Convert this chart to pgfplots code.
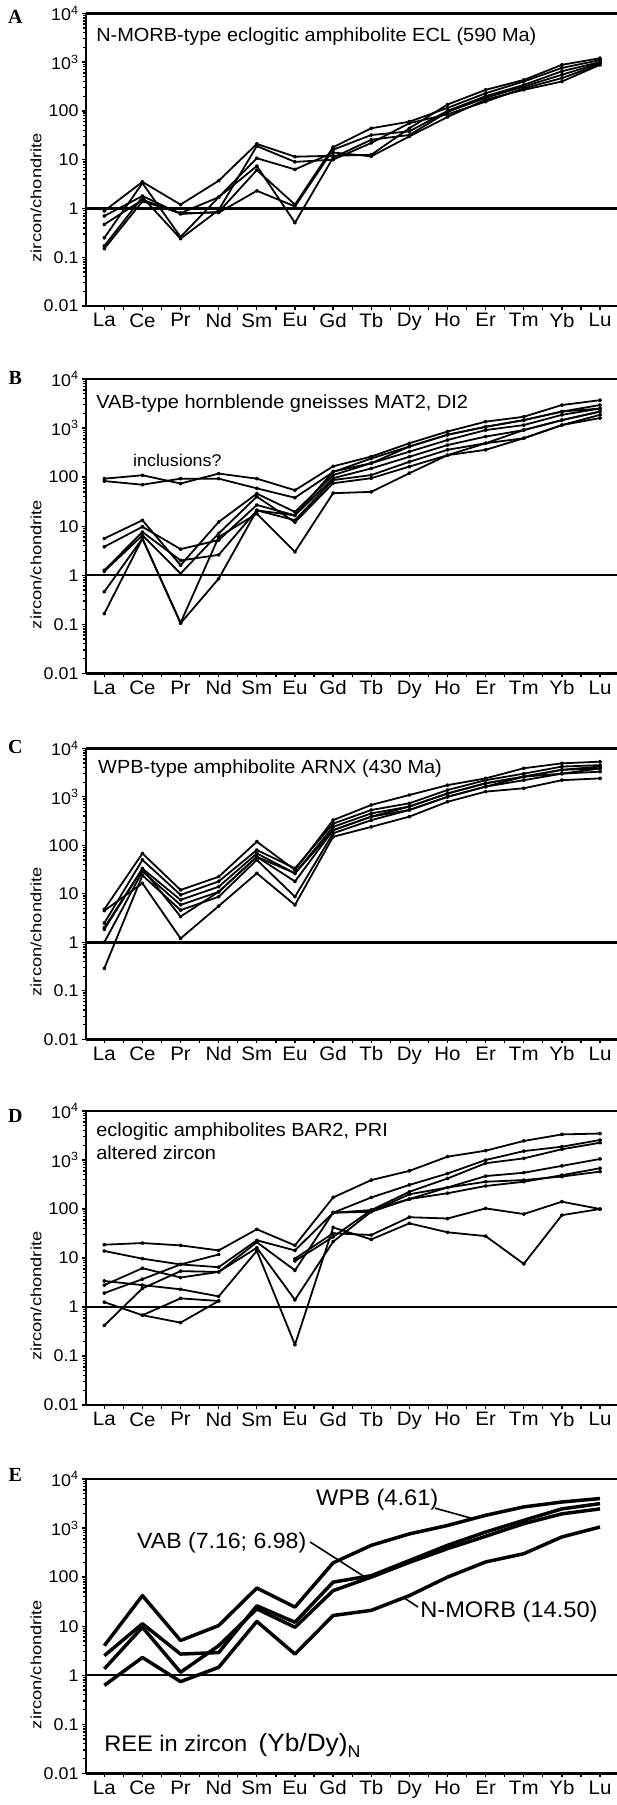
\documentclass[border=0pt]{standalone}
\usepackage{fontspec}
\setmainfont{Liberation Sans}[FakeStretch=1.05]
\newfontfamily\ylabfont{Liberation Sans}[FakeStretch=1.22]
\newfontfamily\letterfont{Liberation Serif}
\usepackage{pgfplots}
\pgfplotsset{compat=1.18}

\pgfplotsset{
  ree/.style={
    scale only axis, width=531.2pt,
    xmin=-0.48, xmax=13.45,
    ymin=0.01, ymax=10000,
    axis x line=box, axis y line=left,
    axis line style={-, line width=2.4pt},
    xtick pos=left, ytick pos=left,
    tick align=outside,
    xtick={0,0.5,...,13},
    xticklabels={La,,Ce,,Pr,,Nd,,Sm,,Eu,,Gd,,Tb,,Dy,,Ho,,Er,,Tm,,Yb,,Lu},
    ytick={0.01,0.1,1,10,100,1000,10000},
    yticklabels={0.01,0.1,1,10,100,{10\textsuperscript{3}},{10\textsuperscript{4}}},
    major tick length=4pt, minor tick length=2.5pt,
    every tick/.style={black, line width=1.3pt},
    xticklabel style={font=\fontsize{19.5}{19.5}\selectfont},
    yticklabel style={font=\fontsize{17}{17}\selectfont},
    ylabel={zircon/chondrite},
    ylabel style={at={(axis description cs:-0.094,0.37)}, anchor=center,
      font=\ylabfont\fontsize{15}{15}\selectfont},
    clip=false,
  },
  ln/.style={black, line width=1.8pt, line join=round, mark=*, mark size=1.1pt},
  lnE/.style={black, line width=3.5pt, line join=round, mark=none},
  one/.style={black, line width=2.4pt, mark=none},
}
\tikzset{
  ttl/.style={anchor=west, font=\fontsize{19}{19}\selectfont, inner sep=0pt},
  lett/.style={font=\letterfont\bfseries\fontsize{20}{20}\selectfont, inner sep=0pt},
}

\begin{document}
\begin{tikzpicture}
\useasboundingbox (0pt,0pt) rectangle (617pt,-1805pt);

% ---------- A ----------
\begin{semilogyaxis}[ree, height=292.7pt, at={(86pt,-13.3pt)}, anchor=north west]
\addplot[one] coordinates {(-0.48,1) (13.45,1)};
\addplot[ln] coordinates {(0,0.89)(1,3.5)(2,1.2)(3,3.7)(4,21)(5,11.5)(6,12)(7,12.6)(8,44)(9,135)(10,270)(11,430)(12,880)(13,1200)};
\addplot[ln] coordinates {(0,0.7)(1,1.8)(2,0.77)(3,0.85)(4,6.1)(5,1.2)(6,18)(7,44)(8,60)(9,115)(10,230)(11,400)(12,760)(13,1100)};
\addplot[ln] coordinates {(0,0.47)(1,1.5)(2,0.8)(3,0.82)(4,2.3)(5,1.1)(6,16)(7,32)(8,38)(9,100)(10,200)(11,340)(12,650)(13,1000)};
\addplot[ln] coordinates {(0,0.25)(1,3.3)(2,0.26)(3,1.7)(4,7.4)(5,0.51)(6,11)(7,25.6)(8,32)(9,95)(10,185)(11,315)(12,550)(13,950)};
\addplot[ln] coordinates {(0,0.17)(1,1.7)(2,0.24)(3,0.93)(4,19)(5,9)(6,10)(7,22)(8,56)(9,85)(10,155)(11,290)(12,470)(13,900)};
\addplot[ln] coordinates {(0,0.15)(1,1.4)(2,0.8)(3,1.7)(4,10.7)(5,6.3)(6,14)(7,11.7)(8,30)(9,75)(10,170)(11,270)(12,400)(13,880)};
\node[lett] at (axis description cs:-0.133,0.987) {A};
\node[ttl] at (axis description cs:0.019,0.919) {N-MORB-type eclogitic amphibolite ECL (590 Ma)};
\end{semilogyaxis}

% ---------- B ----------
\begin{semilogyaxis}[ree, height=294.3pt, at={(86pt,-379pt)}, anchor=north west]
\addplot[one] coordinates {(-0.48,1) (13.45,1)};
\addplot[ln] coordinates {(0,93)(1,109)(2,74)(3,118)(4,93)(5,54)(6,166)(7,262)(8,490)(9,850)(10,1350)(11,1700)(12,2950)(13,3700)};
\addplot[ln] coordinates {(0,83)(1,70)(2,93)(3,93)(4,59)(5,38)(6,127)(7,240)(8,420)(9,730)(10,1060)(11,1450)(12,2170)(13,2950)};
\addplot[ln] coordinates {(0,5.6)(1,13.2)(2,1.6)(3,12.2)(4,46)(5,19.5)(6,110)(7,192)(8,330)(9,570)(10,910)(11,1150)(12,1860)(13,2500)};
\addplot[ln] coordinates {(0,3.8)(1,9.7)(2,3.4)(3,5.2)(4,27)(5,16.6)(6,95)(7,150)(8,260)(9,450)(10,670)(11,910)(12,1450)(13,2170)};
\addplot[ln] coordinates {(0,1.26)(1,7.6)(2,2.0)(3,2.6)(4,21)(5,13.2)(6,87)(7,110)(8,205)(9,360)(10,490)(11,620)(12,1150)(13,1860)};
\addplot[ln] coordinates {(0,1.2)(1,6.5)(2,1.08)(3,7.1)(4,40)(5,12)(6,75)(7,95)(8,164)(9,280)(10,360)(11,620)(12,1150)(13,1600)};
\addplot[ln] coordinates {(0,0.46)(1,5.6)(2,0.107)(3,6.0)(4,18)(5,3.0)(6,47)(7,50)(8,120)(9,280)(10,490)(11,910)(12,1450)(13,2170)};
\addplot[ln] coordinates {(0,0.165)(1,5.6)(2,0.105)(3,0.85)(4,21)(5,16.6)(6,130)(7,192)(8,420)(9,730)(10,1060)(11,1450)(12,2170)(13,2500)};
\node[lett] at (axis description cs:-0.133,1.005) {B};
\node[ttl] at (axis description cs:0.019,0.918) {VAB-type hornblende gneisses MAT2, DI2};
\node[ttl, font=\fontsize{17}{17}\selectfont] at (axis description cs:0.0885,0.724) {inclusions?};
\end{semilogyaxis}

% ---------- C ----------
\begin{semilogyaxis}[ree, height=291pt, at={(86pt,-748.3pt)}, anchor=north west]
\addplot[one] coordinates {(-0.48,1) (13.45,1)};
\addplot[ln] coordinates {(0,4.8)(1,68)(2,12)(3,22.5)(4,119)(5,31)(6,330)(7,680)(8,1090)(9,1740)(10,2400)(11,3880)(12,4900)(13,5300)};
\addplot[ln] coordinates {(0,2.5)(1,50)(2,9.5)(3,18)(4,80)(5,33.5)(6,280)(7,535)(8,735)(9,1380)(10,2200)(11,3000)(12,4200)(13,4500)};
\addplot[ln] coordinates {(0,1.85)(1,33)(2,7.5)(3,14)(4,68)(5,26.5)(6,240)(7,455)(8,630)(9,1170)(10,1900)(11,2600)(12,3600)(13,3850)};
\addplot[ln] coordinates {(0,1.0)(1,29)(2,5.9)(3,11)(4,58)(5,18)(6,205)(7,390)(8,535)(9,1000)(10,1620)(11,2200)(12,3000)(13,3300)};
\addplot[ln] coordinates {(0,0.29)(1,24)(2,4.6)(3,8.7)(4,50)(5,8.7)(6,177)(7,330)(8,535)(9,1000)(10,1620)(11,2600)(12,3600)(13,4200)};
\addplot[ln] coordinates {(0,4.5)(1,16.5)(2,1.2)(3,5.6)(4,26.5)(5,5.9)(6,150)(7,240)(8,390)(9,790)(10,1280)(11,1500)(12,2200)(13,2400)};
\addplot[ln] coordinates {(0,2.0)(1,33)(2,3.4)(3,11)(4,58)(5,26.5)(6,205)(7,390)(8,630)(9,1170)(10,1900)(11,2600)(12,3000)(13,3850)};
\node[lett] at (axis description cs:-0.133,1.005) {C};
\node[ttl] at (axis description cs:0.0226,0.932) {WPB-type amphibolite ARNX (430 Ma)};
\end{semilogyaxis}

% ---------- D ----------
\begin{semilogyaxis}[ree, height=294pt, at={(86pt,-1111pt)}, anchor=north west]
\addplot[one] coordinates {(-0.48,1) (13.45,1)};
\addplot[ln] coordinates {(0,18.7)(1,20.2)(2,18.1)(3,14.3)(4,38.6)(5,18.1)(6,172)(7,390)(8,600)(9,1170)(10,1550)(11,2450)(12,3330)(13,3470)};
\addplot[ln] coordinates {(0,13.9)(1,9.7)(2,7.4)(3,6.5)(4,23)(5,14.3)(6,84)(7,172)(8,310)(9,530)(10,1000)(11,1520)(12,1870)(13,2560)};
\addplot[ln] coordinates {(0,1.93)(1,3.7)(2,7.4)(3,11.8)};
\addplot[ln] coordinates {(0,0.42)(1,2.4)(2,5.4)(3,5.2)(4,21)(5,5.6)(6,84)(7,95)(8,225)(9,420)(10,860)(11,1080)(12,1660)(13,2250)};
\addplot[ln] coordinates {(0,3.4)(1,2.8)(2,2.3)(3,1.65)(4,14)(5,0.17)(6,42)(7,24)(8,51)(9,33.5)(10,28)(11,7.6)(12,75)(13,100)};
\addplot[ln] coordinates {(0,1.26)(1,0.68)(2,0.48)(3,1.33)};
\addplot[ln] coordinates {(0,2.8)(1,6.2)(2,4.0)(3,5.2)(4,16.2)(5,1.4)(6,21.5)(7,88)(8,200)(9,275)(10,470)(11,550)(12,760)(13,1050)};
\addplot[ln] coordinates {(1,0.68)(2,1.5)(3,1.33)};
\addplot[ln] coordinates {(5,8.7)(6,27)(7,95)(8,160)(9,210)(10,295)(11,360)(12,490)(13,680)};
\addplot[ln] coordinates {(5,9.7)(6,32)(7,29.5)(8,68)(9,64)(10,103)(11,79)(12,141)(13,100)};
\addplot[ln] coordinates {(6,84)(7,88)(8,160)(9,275)(10,360)(11,390)(12,460)(13,580)};
\node[lett] at (axis description cs:-0.133,0.983) {D};
\node[ttl] at (axis description cs:0.019,0.929) {eclogitic amphibolites BAR2, PRI};
\node[ttl] at (axis description cs:0.019,0.857) {altered zircon};
\end{semilogyaxis}

% ---------- E ----------
\begin{semilogyaxis}[ree, height=294.3pt, at={(86pt,-1479pt)}, anchor=north west]
\addplot[one] coordinates {(-0.48,1) (13.45,1)};
\addplot[lnE] coordinates {(0,4)(1,42)(2,5.1)(3,10.3)(4,60)(5,24.5)(6,195)(7,445)(8,760)(9,1130)(10,1820)(11,2700)(12,3400)(13,4000)};
\addplot[lnE] coordinates {(0,2.5)(1,11.2)(2,2.7)(3,2.9)(4,26)(5,12)(6,79)(7,107)(8,218)(9,445)(10,830)(11,1440)(12,2460)(13,3150)};
\addplot[lnE] coordinates {(0,1.35)(1,9.5)(2,1.15)(3,4)(4,22.5)(5,9.5)(6,53)(7,100)(8,200)(9,380)(10,680)(11,1230)(12,1950)(13,2460)};
\addplot[lnE] coordinates {(0,0.62)(1,2.3)(2,0.74)(3,1.45)(4,12.5)(5,2.7)(6,16.5)(7,21)(8,42)(9,100)(10,204)(11,300)(12,660)(13,1050)};
\node[lett] at (axis description cs:-0.133,1.014) {E};
\node[ttl, font=\fontsize{22.5}{22.5}\selectfont] at (axis description cs:0.433,0.929) {WPB (4.61)};
\node[ttl, font=\fontsize{22}{22}\selectfont] at (axis description cs:0.096,0.783) {VAB (7.16; 6.98)};
\node[ttl, font=\fontsize{22.5}{22.5}\selectfont] at (axis description cs:0.629,0.548) {N-MORB (14.50)};
\draw[line width=1.6pt] (axis description cs:0.657,0.901) -- (axis description cs:0.725,0.867);
\draw[line width=1.6pt] (axis description cs:0.422,0.786) -- (axis description cs:0.525,0.667);
\draw[line width=1.6pt] (axis description cs:0.625,0.565) -- (axis description cs:0.599,0.596);
\node[ttl, font=\fontsize{22.5}{22.5}\selectfont] at (axis description cs:0.034,0.096)
  {REE in zircon\hspace{0.5em}{\fontsize{25}{25}\selectfont(Yb/Dy)}\raisebox{-6pt}{\fontsize{17}{17}\selectfont N}};
\end{semilogyaxis}
\end{tikzpicture}
\end{document}
